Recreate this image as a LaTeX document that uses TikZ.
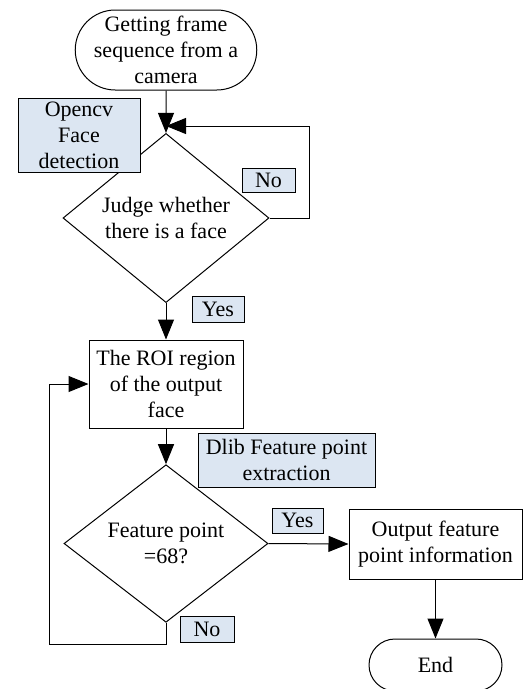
\documentclass[tikz,border=0pt]{standalone}
\usepackage{fontspec}
\setmainfont{Liberation Serif}
\usepackage{tikz}
\usetikzlibrary{arrows.meta}
\usetikzlibrary{shapes.geometric,shapes.misc}
\definecolor{lblue}{RGB}{220,230,242}
\tikzset{
  base/.style={draw, line width=1pt, align=center, inner sep=0pt, font=\fontsize{22}{26}\selectfont},
  term/.style={base, rounded rectangle},
  proc/.style={base, rectangle},
  decide/.style={base, diamond},
  lbl/.style={base, rectangle, fill=lblue},
  arr/.style={line width=1pt, -{Triangle[length=20pt,width=16pt]}}
}

\begin{document}
\begin{tikzpicture}[x=1pt, y=-1pt]
\useasboundingbox (0,0) rectangle (528,689);
% main column
\node[term, minimum width=176pt, minimum height=80pt] (start) at (166,50) {Getting frame\\sequence from a\\camera};
\node[decide, minimum width=206pt, minimum height=122pt] (judge) at (166,218) {Judge whether\\there is a face};
\node[proc, minimum width=154pt, minimum height=88pt] (roi) at (166,384) {The ROI region\\of the output\\face};
\node[decide, minimum width=204pt, minimum height=123pt] (check) at (166,543.5) {Feature point\\=68?};
\node[proc, minimum width=173pt, minimum height=70pt] (output) at (435.5,544) {Output feature\\point information};
\node[term, minimum width=133pt, minimum height=52pt] (finish) at (435.5,665) {End};
% labels
\node[lbl, minimum width=122pt, minimum height=74pt] (opencv) at (79,135) {Opencv\\Face\\detection};
\node[lbl, minimum width=53pt, minimum height=24pt] (no1) at (268.5,180) {No};
\node[lbl, minimum width=52pt, minimum height=26pt] (yes1) at (218,309) {Yes};
\node[lbl, minimum width=177pt, minimum height=54pt] (dlib) at (286.5,460) {Dlib Feature point\\extraction};
\node[lbl, minimum width=51pt, minimum height=25pt] (yes2) at (297.5,520.5) {Yes};
\node[lbl, minimum width=54pt, minimum height=26pt] (no2) at (207,629) {No};
% connectors
\coordinate (merge) at (166,126);
\coordinate (loopR) at (309,126);
\coordinate (loopL) at (49,644);
\draw[arr] (start) -- (judge);
\draw[arr] (judge.east) -| (loopR) -- (merge);
\draw[arr] (judge) -- (roi);
\draw[arr] (roi) -- (check);
\draw[arr] (check.south) |- (loopL) |- (roi.west);
\draw[arr] (check.east) -- (output.west);
\draw[arr] (output) -- (finish);
\end{tikzpicture}
\end{document}
